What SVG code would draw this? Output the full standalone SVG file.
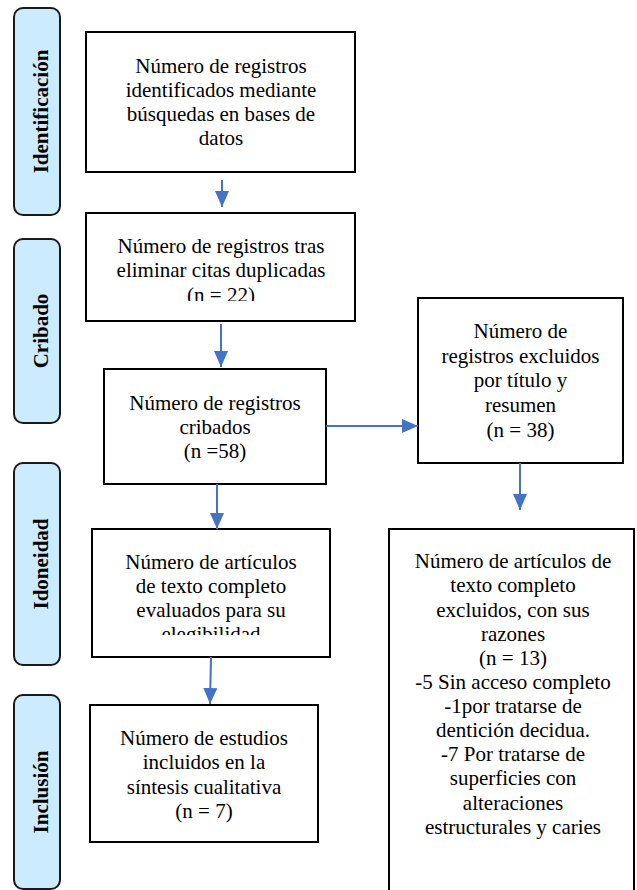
<svg xmlns="http://www.w3.org/2000/svg" width="637" height="890" viewBox="0 0 637 890">
<style>
.stage rect{fill:#CCEBFF;stroke:#1a1a1a;stroke-width:2}
.stage text{font-family:"Liberation Serif","Times New Roman","DejaVu Serif",serif;font-weight:bold;font-size:21px;fill:#000;text-anchor:middle}
.box rect{fill:#fff;stroke:#000;stroke-width:2}
.box text{font-family:"Liberation Serif","Times New Roman","DejaVu Serif",serif;font-size:21px;fill:#000;text-anchor:middle}
.conn line{stroke:#4472C4;stroke-width:2;fill:none;marker-end:url(#ah)}
</style>
<defs>
<marker id="ah" markerUnits="userSpaceOnUse" markerWidth="16" markerHeight="14" viewBox="0 0 16 14" refX="16" refY="7" orient="auto">
<path d="M0,0 L16,7 L0,14 Z" fill="#4472C4"/>
</marker>
<clipPath id="c2"><rect x="86" y="213" width="269" height="88"/></clipPath>
<clipPath id="c5"><rect x="92" y="529" width="238" height="106"/></clipPath>
</defs>
<rect width="637" height="890" fill="#fff"/>

<g id="stage-identificacion" class="stage">
<rect x="14" y="8" width="46" height="207" rx="9"/>
<text transform="translate(48,111.5) rotate(-90)">Identificación</text>
</g>
<g id="stage-cribado" class="stage">
<rect x="14" y="239" width="46" height="184" rx="9"/>
<text transform="translate(48,331) rotate(-90)">Cribado</text>
</g>
<g id="stage-idoneidad" class="stage">
<rect x="14" y="463" width="46" height="202" rx="9"/>
<text transform="translate(48,564) rotate(-90)">Idoneidad</text>
</g>
<g id="stage-inclusion" class="stage">
<rect x="14" y="695" width="46" height="194" rx="9"/>
<text transform="translate(48,792) rotate(-90)">Inclusión</text>
</g>

<g id="box-identificados" class="box">
<rect x="86" y="32" width="269" height="140"/>
<text x="221" y="73">Número de registros</text>
<text x="221" y="97">identificados mediante</text>
<text x="221" y="121">búsquedas en bases de</text>
<text x="221" y="145">datos</text>
</g>
<g id="box-duplicados" class="box">
<rect x="86" y="213" width="269" height="108"/>
<text x="221" y="253">Número de registros tras</text>
<text x="221" y="277">eliminar citas duplicadas</text>
<text x="221" y="302" clip-path="url(#c2)">(n = 22)</text>
</g>
<g id="box-cribados" class="box">
<rect x="104" y="369" width="222" height="115"/>
<text x="215" y="410">Número de registros</text>
<text x="215" y="434">cribados</text>
<text x="215" y="458">(n =58)</text>
</g>
<g id="box-excluidos-titulo" class="box">
<rect x="418" y="298" width="205" height="165"/>
<text x="520.5" y="338">Número de</text>
<text x="520.5" y="363">registros excluidos</text>
<text x="520.5" y="387">por título y</text>
<text x="520.5" y="412">resumen</text>
<text x="520.5" y="437">(n = 38)</text>
</g>
<g id="box-evaluados" class="box">
<rect x="92" y="529" width="238" height="128"/>
<text x="211" y="569">Número de artículos</text>
<text x="211" y="593">de texto completo</text>
<text x="211" y="617">evaluados para su</text>
<text x="211" y="641" clip-path="url(#c5)">elegibilidad</text>
</g>
<g id="box-excluidos-texto" class="box">
<rect x="389" y="529" width="245" height="370"/>
<text x="513" y="568">Número de artículos de</text>
<text x="513" y="592">texto completo</text>
<text x="513" y="617">excluidos, con sus</text>
<text x="513" y="641">razones</text>
<text x="513" y="665">(n = 13)</text>
<text x="513" y="689">-5 Sin acceso completo</text>
<text x="513" y="713">-1por tratarse de</text>
<text x="513" y="737">dentición decidua.</text>
<text x="513" y="761">-7 Por tratarse de</text>
<text x="513" y="785">superficies con</text>
<text x="513" y="810">alteraciones</text>
<text x="513" y="834">estructurales y caries</text>
</g>
<g id="box-incluidos" class="box">
<rect x="90" y="705" width="228" height="137"/>
<text x="204" y="745">Número de estudios</text>
<text x="204" y="769">incluidos en la</text>
<text x="204" y="794">síntesis cualitativa</text>
<text x="204" y="818">(n = 7)</text>
</g>

<g id="connectors" class="conn">
<line x1="222" y1="180" x2="222" y2="207"/>
<line x1="221" y1="324" x2="221" y2="367"/>
<line x1="326" y1="426" x2="418" y2="426"/>
<line x1="520" y1="463" x2="520" y2="510"/>
<line x1="217" y1="484" x2="217" y2="529"/>
<line x1="211" y1="657" x2="210" y2="704"/>
</g>
</svg>
